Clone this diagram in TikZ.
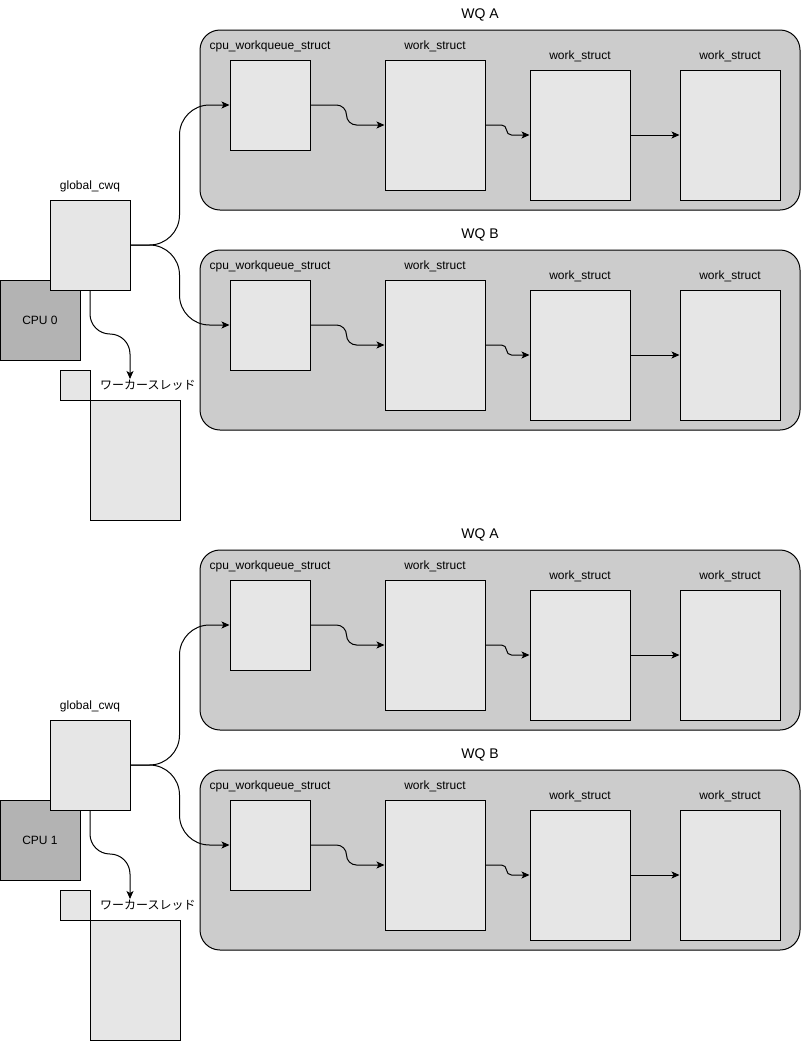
\documentclass[tikz,border=0pt]{standalone}
\usepackage{fontspec}
\setmainfont{Liberation Sans}
\newfontfamily\jpfont{Noto Sans CJK JP}
\usetikzlibrary{arrows.meta,positioning}

\definecolor{wqgray}{HTML}{CCCCCC}
\definecolor{boxgray}{HTML}{E6E6E6}
\definecolor{cpugray}{HTML}{B3B3B3}

\tikzset{
  box/.style={draw, fill=boxgray, inner sep=0pt, line width=1pt},
  wqbox/.style={draw, fill=wqgray, rounded corners=20pt, minimum width=600pt, minimum height=180pt, line width=1pt},
  cpubox/.style={draw, fill=cpugray, minimum width=80pt, minimum height=80pt, line width=1pt, font=\fontsize{12}{14}\selectfont},
  lbl/.style={font=\fontsize{12}{14}\selectfont, inner sep=0pt},
  link/.style={-{Stealth[length=8pt,width=7pt,inset=2pt]}, line width=1pt}
}

\begin{document}
\begin{tikzpicture}[x=1pt, y=-1pt]
\useasboundingbox (0,0) rectangle (801,1050);

\foreach \c/\oy in {0/0, 1/520} {
  %WQ A and WQ B
  \foreach \q/\qy in {A/0, B/220} {
    \pgfmathsetmacro\y{\oy+\qy}
    \node[wqbox] (wq\q\c) at (500, \y+120) {};
    \node[lbl, font=\fontsize{14}{16}\selectfont] (wqlbl\q\c) at (480, \y+15) {WQ \q};

    \node[box, minimum width=80pt, minimum height=90pt] (cwq\q\c) at (270, \y+105) {};
    \node[box, minimum width=100pt, minimum height=130pt] (wsa\q\c) at (435, \y+125) {};
    \node[box, minimum width=100pt, minimum height=130pt] (wsb\q\c) at (580, \y+135) {};
    \node[box, minimum width=100pt, minimum height=130pt] (wsc\q\c) at (730, \y+135) {};

    \node[lbl] (cwqlbl\q\c) at (270, \y+46) {cpu\_workqueue\_struct};
    \node[lbl] (wsalbl\q\c) at (435, \y+46) {work\_struct};
    \node[lbl] (wsblbl\q\c) at (580, \y+56) {work\_struct};
    \node[lbl] (wsclbl\q\c) at (730, \y+56) {work\_struct};

    \draw[link, rounded corners=10pt] (cwq\q\c.east) -| ([xshift=-38pt]wsa\q\c.west) -- (wsa\q\c.west);
    \draw[link, rounded corners=5pt] (wsa\q\c.east) -| ([xshift=-23pt]wsb\q\c.west) -- (wsb\q\c.west);
    \draw[link] (wsb\q\c.east) -- (wsc\q\c.west);
  }

  %CPU side
  \node[cpubox] (cpu\c) at (40, \oy+320) {CPU \c};
  \node[box, minimum width=80pt, minimum height=90pt] (gcwq\c) at (90, \oy+245) {};
  \node[lbl] (gcwqlbl\c) at (90, \oy+186) {global\_cwq};

  %worker thread
  \node[box, minimum width=30pt, minimum height=30pt] (wkflag\c) at (75, \oy+385) {};
  \node[box, minimum width=90pt, minimum height=120pt] (worker\c) at (135, \oy+460) {};
  \node[lbl, anchor=west] (wklbl\c) at (100, \oy+385) {\jpfont ワーカースレッド};
  \coordinate (tip\c) at (130, \oy+379);

  \draw[link, rounded corners=30pt] (gcwq\c.east) -| ([xshift=-50pt]cwqA\c.west) -- (cwqA\c.west);
  \draw[link, rounded corners=30pt] (gcwq\c.east) -| ([xshift=-50pt]cwqB\c.west) -- (cwqB\c.west);
  \draw[link, rounded corners=20pt] (gcwq\c.south) |- ([yshift=45pt]tip\c) -- (tip\c);
}

\end{tikzpicture}
\end{document}
